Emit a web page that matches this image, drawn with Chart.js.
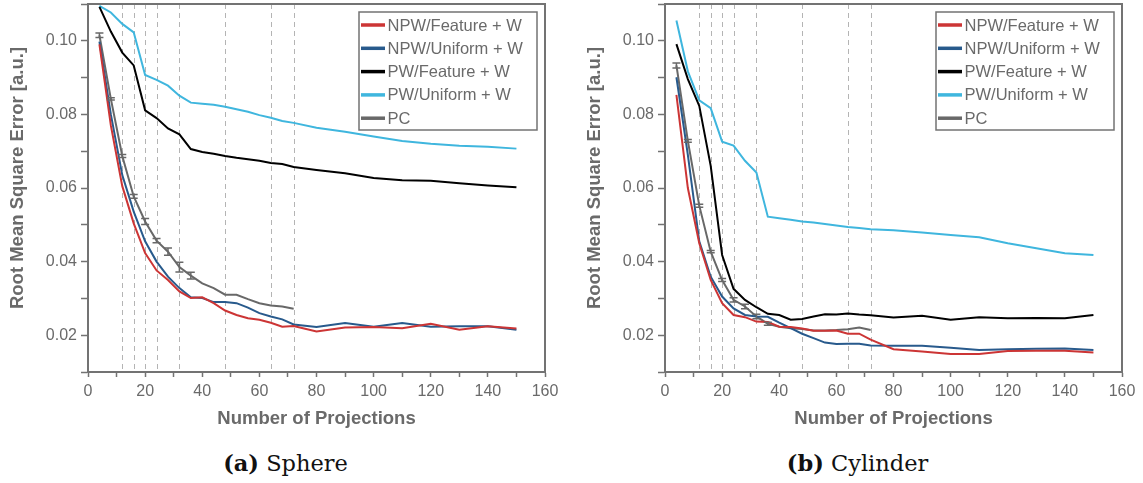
<!DOCTYPE html>
<html>
<head>
<meta charset="utf-8">
<script src="https://cdn.jsdelivr.net/npm/chart.js@4.4.1/dist/chart.umd.min.js"></script>
<style>
  body { margin: 0; background: #fff; width: 1143px; height: 483px; overflow: hidden; position: relative; }
  .panel { position: absolute; top: 0; width: 566px; height: 440px; }
  .caption { position: absolute; top: 450px; width: 571px; text-align: center; line-height: 27px;
             font-family: "DejaVu Serif", serif; font-size: 22.5px; color: #111; }
</style>
</head>
<body>
<div class="panel" style="left:0"><canvas id="sphere" width="566" height="440"></canvas></div>
<div class="panel" style="left:577px"><canvas id="cylinder" width="566" height="440"></canvas></div>
<div class="caption" style="left:0"><b>(a)</b> Sphere</div>
<div class="caption" style="left:572px"><b>(b)</b> Cylinder</div>
<script>
// number of projections
const xs = [4, 8, 12, 16, 20, 24, 28, 32, 36, 40, 44, 48, 52, 56, 60, 64, 68, 72, 80, 90, 100, 110, 120, 130, 140, 150];
const refLines = [12, 16, 20, 24, 32, 48, 64, 72];
const seriesNames = ['NPW/Feature + W', 'NPW/Uniform + W', 'PW/Feature + W', 'PW/Uniform + W', 'PC'];
const seriesColors = ['#cc3535', '#285a8c', '#000000', '#3fb6de', '#686868'];

// (a) Sphere
const sphereNpwFeature = [0.0990, 0.0770, 0.0605, 0.0504, 0.0423, 0.0376, 0.0350, 0.0319, 0.0301, 0.0303, 0.0287, 0.0267, 0.0255, 0.0246, 0.0242, 0.0234, 0.0223, 0.0225, 0.0210, 0.0221, 0.0222, 0.0219, 0.0231, 0.0215, 0.0224, 0.0218];
const sphereNpwUniform = [0.0998, 0.0800, 0.0635, 0.0536, 0.0455, 0.0400, 0.0359, 0.0328, 0.0303, 0.0301, 0.0290, 0.0290, 0.0287, 0.0275, 0.0260, 0.0251, 0.0243, 0.0229, 0.0222, 0.0233, 0.0223, 0.0233, 0.0223, 0.0224, 0.0224, 0.0215];
const spherePwFeature = [0.1092, 0.1025, 0.0968, 0.0933, 0.0811, 0.0790, 0.0762, 0.0746, 0.0706, 0.0698, 0.0693, 0.0687, 0.0682, 0.0678, 0.0674, 0.0668, 0.0665, 0.0657, 0.0649, 0.0640, 0.0627, 0.0621, 0.0620, 0.0613, 0.0607, 0.0602];
const spherePwUniform = [0.1095, 0.1077, 0.1046, 0.1023, 0.0907, 0.0894, 0.0878, 0.0851, 0.0832, 0.0829, 0.0826, 0.0821, 0.0814, 0.0807, 0.0798, 0.0791, 0.0782, 0.0777, 0.0764, 0.0753, 0.0740, 0.0728, 0.0720, 0.0715, 0.0712, 0.0707];
const spherePc = [0.1015, 0.0842, 0.0687, 0.0577, 0.0509, 0.0457, 0.0427, 0.0385, 0.0362, 0.0341, 0.0328, 0.0310, 0.0310, 0.0298, 0.0287, 0.0281, 0.0278, 0.0272, null, null, null, null, null, null, null, null];
const spherePcErr = [0.0006, 0.0003, 0.0004, 0.0005, 0.0008, 0.0006, 0.0010, 0.0013, 0.0009, 0, 0, 0, 0, 0, 0, 0, 0, 0];

// (b) Cylinder
const cylNpwFeature = [0.0853, 0.0600, 0.0450, 0.0350, 0.0287, 0.0255, 0.0249, 0.0237, 0.0236, 0.0223, 0.0222, 0.0218, 0.0212, 0.0212, 0.0213, 0.0204, 0.0204, 0.0188, 0.0162, 0.0156, 0.0149, 0.0149, 0.0157, 0.0158, 0.0158, 0.0153];
const cylNpwUniform = [0.0901, 0.0690, 0.0455, 0.0359, 0.0305, 0.0273, 0.0255, 0.0251, 0.0250, 0.0234, 0.0219, 0.0204, 0.0192, 0.0180, 0.0176, 0.0177, 0.0177, 0.0172, 0.0171, 0.0171, 0.0166, 0.0160, 0.0162, 0.0163, 0.0164, 0.0160];
const cylPwFeature = [0.0991, 0.0896, 0.0823, 0.0660, 0.0418, 0.0326, 0.0296, 0.0276, 0.0258, 0.0255, 0.0242, 0.0244, 0.0251, 0.0257, 0.0256, 0.0259, 0.0256, 0.0254, 0.0248, 0.0253, 0.0242, 0.0249, 0.0246, 0.0247, 0.0246, 0.0255];
const cylPwUniform = [0.1055, 0.0917, 0.0838, 0.0817, 0.0726, 0.0715, 0.0674, 0.0642, 0.0522, 0.0518, 0.0514, 0.0509, 0.0506, 0.0502, 0.0498, 0.0494, 0.0491, 0.0488, 0.0485, 0.0479, 0.0472, 0.0466, 0.0450, 0.0436, 0.0423, 0.0418];
const cylPc = [0.0933, 0.0728, 0.0552, 0.0427, 0.0350, 0.0296, 0.0278, 0.0251, 0.0231, 0.0223, 0.0219, 0.0217, 0.0213, 0.0213, 0.0214, 0.0216, 0.0221, 0.0214, null, null, null, null, null, null, null, null];
const cylPcErr = [0.0007, 0.0004, 0.0004, 0.0003, 0.0004, 0.0006, 0.0006, 0.0006, 0.0004, 0, 0, 0, 0, 0, 0, 0, 0, 0];

const FONT = '"Liberation Sans", Arial, sans-serif';
const axisGray = '#737373';
const textGray = '#6a6a6a';

// dashed vertical marks + frame box
const decorPlugin = {
  id: 'decor',
  beforeDatasetsDraw(chart) {
    const {ctx, chartArea: a, scales: {x}} = chart;
    ctx.save();
    ctx.strokeStyle = '#b4b4b4';
    ctx.lineWidth = 1;
    ctx.setLineDash([5, 4]);
    refLines.forEach(v => {
      const px = Math.round(x.getPixelForValue(v)) + 0.5;
      ctx.beginPath();
      ctx.moveTo(px, a.top);
      ctx.lineTo(px, a.bottom);
      ctx.stroke();
    });
    ctx.restore();
  },
  afterDraw(chart) {
    const {ctx, chartArea: a} = chart;
    ctx.save();
    ctx.strokeStyle = axisGray;
    ctx.lineWidth = 2;
    ctx.strokeRect(a.left, a.top, a.right - a.left, a.bottom - a.top);
    // y axis title
    ctx.fillStyle = textGray;
    ctx.font = 'bold 18.5px ' + FONT;
    ctx.textAlign = 'center';
    ctx.textBaseline = 'middle';
    ctx.translate(17.5, 178);
    ctx.rotate(-Math.PI / 2);
    ctx.fillText('Root Mean Square Error [a.u.]', 0, 0);
    ctx.restore();
  }
};

// error bars on the PC curve
const errorBarPlugin = {
  id: 'errbars',
  afterDatasetsDraw(chart) {
    const {ctx, scales: {x, y}} = chart;
    chart.data.datasets.forEach(ds => {
      if (!ds.errors) return;
      ctx.save();
      ctx.strokeStyle = ds.borderColor;
      ctx.lineWidth = 1.5;
      ds.errors.forEach((e, i) => {
        if (!e) return;
        const v = ds.data[i].y;
        const px = x.getPixelForValue(ds.data[i].x);
        const y1 = y.getPixelForValue(v + e), y2 = y.getPixelForValue(v - e);
        ctx.beginPath();
        ctx.moveTo(px, y1); ctx.lineTo(px, y2);
        ctx.moveTo(px - 4, y1); ctx.lineTo(px + 4, y1);
        ctx.moveTo(px - 4, y2); ctx.lineTo(px + 4, y2);
        ctx.stroke();
      });
      ctx.restore();
    });
  }
};

// boxed legend inside the plot, top right
const boxLegendPlugin = {
  id: 'boxLegend',
  afterDraw(chart) {
    const {ctx, chartArea: a} = chart;
    const w = 178, h = 118, rowH = 23.3;
    const left = a.right - 8 - w, top = a.top + 8;
    ctx.save();
    ctx.fillStyle = '#fff';
    ctx.fillRect(left, top, w, h);
    ctx.strokeStyle = axisGray;
    ctx.lineWidth = 1.5;
    ctx.strokeRect(left, top, w, h);
    ctx.font = '16.5px ' + FONT;
    ctx.textBaseline = 'middle';
    chart.data.datasets.forEach((ds, i) => {
      const cy = top + 13 + i * rowH;
      ctx.strokeStyle = ds.borderColor;
      ctx.lineWidth = 3.5;
      ctx.beginPath();
      ctx.moveTo(left + 2, cy); ctx.lineTo(left + 26, cy);
      ctx.stroke();
      ctx.fillStyle = textGray;
      ctx.fillText(ds.label, left + 28.5, cy + 1);
    });
    ctx.restore();
  }
};

function pairs(arr) {
  return xs.map((x, i) => ({x: x, y: arr[i]}));
}

function buildChart(id, lists, pcErr) {
  const datasets = lists.map((arr, i) => ({
    label: seriesNames[i],
    data: pairs(arr),
    borderColor: seriesColors[i],
    backgroundColor: seriesColors[i],
    borderWidth: 2,
    pointRadius: 0,
    tension: 0,
    spanGaps: false
  }));
  datasets[4].errors = pcErr;
  // draw PC underneath the other curves like the original
  datasets[4].order = 5;

  return new Chart(document.getElementById(id), {
    type: 'line',
    data: {datasets: datasets},
    plugins: [decorPlugin, errorBarPlugin, boxLegendPlugin],
    options: {
      responsive: false,
      animation: false,
      devicePixelRatio: 1,
      layout: {padding: {top: 4, right: 21, left: 0, bottom: 0}},
      plugins: {legend: {display: false}, tooltip: {enabled: false}},
      scales: {
        x: {
          type: 'linear', min: 0, max: 160,
          ticks: {
            stepSize: 10, autoSkip: false, maxRotation: 0, padding: 5,
            color: textGray, font: {family: FONT, size: 16},
            callback: v => (v % 20 === 0 ? String(v) : '')
          },
          grid: {drawOnChartArea: false, drawTicks: true, tickLength: 5, tickColor: axisGray, tickWidth: 1.5},
          border: {color: axisGray, width: 2},
          title: {
            display: true, text: 'Number of Projections', color: textGray,
            font: {family: FONT, size: 18.5, weight: 'bold', lineHeight: 1.2},
            padding: {top: 0, bottom: 10}
          },
          afterFit: s => { s.height = 440 - 372; s.paddingLeft = 0; }
        },
        y: {
          type: 'linear', min: 0.01, max: 0.11,
          ticks: {
            stepSize: 0.01, autoSkip: false, padding: 4,
            color: textGray, font: {family: FONT, size: 16},
            callback: v => (Math.round(v * 100) % 2 === 0 ? v.toFixed(2) : '')
          },
          grid: {drawOnChartArea: false, drawTicks: true, tickLength: 7, tickColor: axisGray, tickWidth: 1.5},
          border: {color: axisGray, width: 2},
          afterFit: s => { s.width = 88; s.paddingTop = 0; s.paddingBottom = 0; }
        }
      }
    }
  });
}

buildChart('sphere', [sphereNpwFeature, sphereNpwUniform, spherePwFeature, spherePwUniform, spherePc], spherePcErr);
buildChart('cylinder', [cylNpwFeature, cylNpwUniform, cylPwFeature, cylPwUniform, cylPc], cylPcErr);
</script>
</body>
</html>
